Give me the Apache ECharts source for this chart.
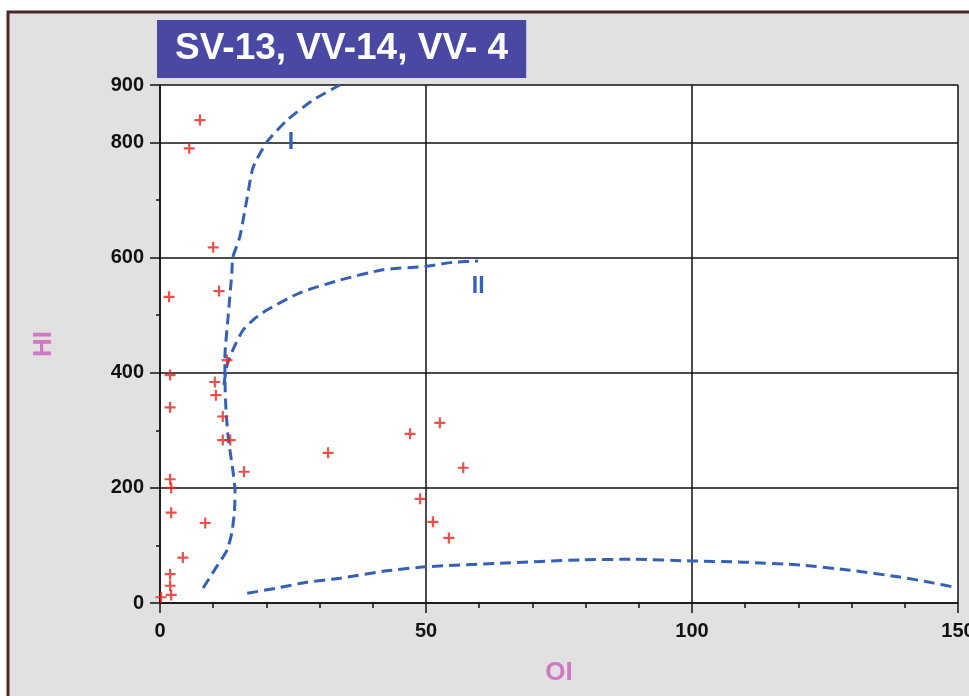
<!DOCTYPE html>
<html>
<head>
<meta charset="utf-8">
<title>SV-13, VV-14, VV- 4</title>
<script src="https://cdn.jsdelivr.net/npm/echarts@6/dist/echarts.min.js"></script>
<style>
html,body{margin:0;padding:0;background:#fff;}
#chart{width:969px;height:696px;}
</style>
</head>
<body>
<div id="chart"></div>
<script>
// measured samples, [OI, HI]
var samples = [
	[7.5,839],[5.5,790],[10.0,618],[1.7,532],[11.1,542],[12.6,422],[1.9,396],[10.3,384],
	[10.5,361],[1.9,340],[11.8,324],[11.8,283],[13.2,283],[15.8,228],[1.9,215],[2.1,200],
	[2.1,157],[8.5,139],[4.3,79],[1.9,50],[1.9,30],[2.1,14],[0.2,10],[31.6,261],
	[47.0,294],[52.6,313],[57.0,235],[48.9,181],[51.3,141],[54.3,113]
];
// boundary curves
var curveI = [
	[8.1,26],[10.3,58],[12.6,92],[13.5,122],[14.0,160],[14.1,195],[13.7,230],[13.2,262],
	[12.8,290],[12.4,335],[12.2,393],[12.2,427],[12.8,497],[13.5,573],[13.7,601],[15.0,636],
	[16.4,705],[17.5,757],[20.1,801],[23.9,839],[28.8,874],[33.8,900]
];
var curveII = [
	[12.0,379],[12.6,413],[13.7,440],[15.6,474],[17.9,495],[20.1,509],[26.3,539],[33.8,561],
	[41.9,579],[50.2,585],[55.1,592],[59.8,594]
];
var curveIII = [
	[16.4,17],[22.0,26],[27.6,36],[33.8,43],[42.7,56],[50.2,63],[63.9,69],[79.5,75],
	[88.9,76],[100,73],[109.6,71],[120.3,66],[129.7,57],[139.1,45],[145.3,35],[150,26]
];
var curveNames = ['I', 'II'];
var curveNameAt = [[24.6,799],[59.8,549]];
var xTickLabels = [0, 50, 100, 150];
var yTickLabels = [0, 200, 400, 600, 800, 900];

var chart = echarts.init(document.getElementById('chart'));
var ink = '#111';
var pink = '#d078c3';
var blue = '#3461b5';
var font = 'Liberation Sans';

var curveLine = {color:blue, width:3, type:[11,6]};
function curve(data, withNames){
	var s = {
		type:'line', data:data, smooth:0.2, showSymbol:false, symbol:'none',
		lineStyle:curveLine, z:3, silent:true
	};
	if(withNames){
		s.markPoint = {
			symbol:'rect', symbolSize:0, silent:true,
			label:{show:true, position:'inside', color:blue, fontFamily:font, fontWeight:'bold', fontSize:23,
				formatter:function(p){return p.name;}},
			data:curveNames.map(function(n,i){return {name:n, coord:curveNameAt[i]};})
		};
	}
	return s;
}

var option = {
	backgroundColor:'#e1e1e1',
	animation:false,
	title:{
		text:'SV-13, VV-14, VV- 4', left:157, top:20,
		backgroundColor:'#4949a3', padding:[10,18],
		textStyle:{color:'#fff', fontFamily:font, fontWeight:'bold', fontSize:37, lineHeight:38}
	},
	graphic:[
		{type:'rect', shape:{x:0,y:0,width:969,height:11}, style:{fill:'#fff'}, silent:true},
		{type:'rect', shape:{x:0,y:0,width:7,height:696}, style:{fill:'#fff'}, silent:true},
		{type:'polyline', shape:{points:[[8,700],[8,12],[975,12]]}, style:{stroke:'#4d2626', lineWidth:3, fill:null}, silent:true}
	],
	grid:[
		{left:160, top:85, width:798, height:518, show:true, backgroundColor:'#fff', borderWidth:0, outerBoundsMode:'none', containLabel:false},
		{left:160, top:85, width:798, height:518, outerBoundsMode:'none', containLabel:false}
	],
	xAxis:[{
		gridIndex:0, type:'value', min:0, max:150, interval:50,
		name:'OI', nameLocation:'middle', nameGap:57,
		nameTextStyle:{color:pink, fontFamily:font, fontWeight:'bold', fontSize:26},
		axisLine:{lineStyle:{color:ink, width:1.5}},
		axisTick:{length:10, lineStyle:{color:ink, width:1.5}},
		minorTick:{show:true, splitNumber:5, length:5, lineStyle:{color:ink, width:1.5}},
		axisLabel:{margin:18, color:ink, fontFamily:font, fontWeight:'bold', fontSize:20,
			formatter:function(v){return xTickLabels.indexOf(v) >= 0 ? String(v) : '';}},
		splitLine:{show:true, lineStyle:{color:ink, width:1.5}}
	},{
		gridIndex:1, type:'value', min:0, max:150, show:false
	}],
	yAxis:[{
		gridIndex:0, type:'value', min:0, max:900, interval:200,
		name:'HI', nameLocation:'middle', nameGap:103,
		nameTextStyle:{color:pink, fontFamily:font, fontWeight:'bold', fontSize:26},
		axisLine:{show:true, lineStyle:{color:ink, width:1.5}},
		axisTick:{show:true, length:10, lineStyle:{color:ink, width:1.5}},
		axisLabel:{margin:16, color:ink, fontFamily:font, fontWeight:'bold', fontSize:20,
			formatter:function(v){return yTickLabels.indexOf(v) >= 0 ? String(v) : '';}},
		splitLine:{show:true, lineStyle:{color:ink, width:1.5}}
	},{
		// minor ticks every 100
		gridIndex:1, type:'value', min:0, max:900, interval:100,
		axisLine:{show:false},
		axisTick:{show:true, length:4, lineStyle:{color:ink, width:1.5}},
		axisLabel:{show:false},
		splitLine:{show:false}
	}],
	series:[
		curve(curveI, true),
		curve(curveII, false),
		curve(curveIII, false),
		{
			type:'scatter', data:samples, z:4, silent:true,
			symbol:'path://M4,0h2v10h-2zM0,4h10v2h-10z', symbolSize:11,
			itemStyle:{color:'#e8231e'}
		}
	]
};
chart.setOption(option);
</script>
</body>
</html>
